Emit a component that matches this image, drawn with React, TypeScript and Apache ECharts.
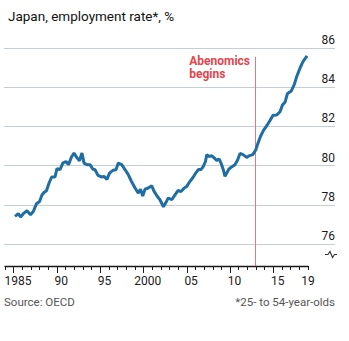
import React, { useEffect, useRef } from "react";
import * as echarts from "echarts";

// Japan employment rate (25-54), % — [year, value]
const years: number[] = [
  1985.16, 1985.54, 1985.79, 1986.19, 1986.54, 1986.95, 1987.27, 1987.64, 1987.99, 1988.27,
  1988.5, 1988.79, 1989.08, 1989.39, 1989.78, 1990.0, 1990.35, 1990.7, 1991.05, 1991.34,
  1991.68, 1991.97, 1992.28, 1992.6, 1992.89, 1993.13, 1993.47, 1993.82, 1994.13, 1994.4,
  1994.74, 1995.15, 1995.44, 1995.78, 1996.07, 1996.47, 1996.82, 1997.09, 1997.48, 1997.86,
  1998.24, 1998.61, 1999.02, 1999.4, 1999.65, 1999.91, 2000.17, 2000.55, 2000.95, 2001.21,
  2001.56, 2001.9, 2002.3, 2002.68, 2002.86, 2003.26, 2003.64, 2003.98, 2004.33, 2004.71,
  2004.99, 2005.37, 2005.75, 2006.03, 2006.33, 2006.64, 2006.91, 2007.16, 2007.3, 2007.56,
  2007.88, 2008.18, 2008.45, 2008.72, 2008.95, 2009.22, 2009.41, 2009.61, 2009.87, 2010.26,
  2010.57, 2010.88, 2011.15, 2011.5, 2011.92, 2012.19, 2012.62, 2012.96, 2013.23, 2013.52,
  2013.86, 2014.26, 2014.61, 2014.96, 2015.39, 2015.77, 2016.06, 2016.34, 2016.63, 2017.04,
  2017.41, 2017.7, 2018.08, 2018.42, 2018.89,
];
const rates: number[] = [
  77.41, 77.55, 77.38, 77.58, 77.7, 77.5, 77.66, 78.06, 78.17, 78.5,
  78.63, 78.72, 79.1, 79.42, 79.42, 79.85, 79.8, 80.14, 80.21, 80.05,
  80.44, 80.64, 80.42, 80.25, 80.64, 80.13, 80.05, 80.05, 79.83, 79.79,
  79.5, 79.42, 79.45, 79.3, 79.62, 79.76, 79.79, 80.13, 80.05, 79.8,
  79.54, 79.19, 78.86, 78.6, 78.8, 78.45, 78.8, 78.86, 78.97, 78.7,
  78.45, 78.26, 77.9, 78.2, 78.35, 78.26, 78.51, 78.73, 78.68, 78.86,
  78.94, 79.2, 79.42, 79.62, 79.8, 79.8, 79.96, 80.21, 80.56, 80.47,
  80.5, 80.39, 80.27, 80.34, 80.13, 79.79, 79.45, 79.62, 79.83, 79.96,
  80.05, 80.3, 80.62, 80.56, 80.42, 80.5, 80.56, 80.8, 81.15, 81.5,
  81.8, 82.05, 82.3, 82.57, 82.58, 82.75, 83.1, 83.23, 83.68, 83.79,
  84.13, 84.55, 84.98, 85.3, 85.6,
];

const yTicks: number[] = [76, 78, 80, 82, 84, 86];
const majorTickYears: number[] = [1985, 1990, 1995, 2000, 2005, 2010, 2015];
const xLabelPositions: number[] = [1985.5, 1990.5, 1995.5, 2000.5, 2005.5, 2010.5, 2015.5, 2019];
const xLabelTexts: string[] = ["1985", "90", "95", "2000", "05", "10", "15", "19"];
const abenomicsYear = 2012.95;
const abenomicsTop = 85.55;

const X_MIN = 1984;
const X_MAX = 2019;
const Y_MIN = 74.88;
const Y_MAX = 86;

const FONT = "Roboto, 'Noto Sans', sans-serif";
const RED = "#e3454c";

export default function App() {
  const ref = useRef<HTMLDivElement>(null);
  useEffect(() => {
    if (!ref.current) return;
    const chart = echarts.init(ref.current, undefined, { renderer: "svg" });
    const labelMap: Record<string, string> = {};
    xLabelPositions.forEach((p, i) => (labelMap[String(p)] = xLabelTexts[i]));
    const option: any = {
      animation: false,
      backgroundColor: "#ffffff",
      textStyle: { fontFamily: FONT },
      title: {
        text: "Japan, employment rate*, %",
        left: 3,
        top: 4,
        textStyle: { fontFamily: FONT, fontSize: 13.5, fontWeight: "normal", color: "#111" },
      },
      grid: [
        { left: 4, right: 14, top: 48, height: 196, containLabel: false },
        { left: 5, width: 303, top: 48, height: 218, containLabel: false },
      ],
      xAxis: [
        { type: "value", gridIndex: 0, min: X_MIN, max: X_MAX, show: false },
        {
          type: "value",
          gridIndex: 1,
          min: X_MIN,
          max: X_MAX,
          interval: 1,
          position: "bottom",
          axisLine: { show: true, lineStyle: { color: "#1a1a1a", width: 1.3 } },
          axisTick: { show: true, length: 4, lineStyle: { color: "#1a1a1a", width: 1 } },
          axisLabel: { show: false },
          splitLine: { show: false },
        },
        {
          type: "value",
          gridIndex: 1,
          min: X_MIN,
          max: X_MAX,
          position: "bottom",
          axisLine: { show: false },
          axisTick: {
            show: true,
            length: 7,
            customValues: majorTickYears,
            lineStyle: { color: "#1a1a1a", width: 1 },
          },
          axisLabel: {
            show: true,
            customValues: xLabelPositions,
            formatter: (v: number) => labelMap[String(v)] ?? "",
            margin: 9,
            fontSize: 12,
            color: "#1a1a1a",
            fontFamily: FONT,
            showMinLabel: true,
            showMaxLabel: true,
            hideOverlap: false,
          },
          splitLine: { show: false },
        },
      ],
      yAxis: [
        {
          type: "value",
          gridIndex: 0,
          min: yTicks[0],
          max: yTicks[yTicks.length - 1],
          interval: 2,
          position: "right",
          axisLine: { show: false },
          axisTick: { show: false },
          axisLabel: {
            show: true,
            inside: true,
            margin: 0,
            align: "right",
            verticalAlign: "bottom",
            padding: [0, 0, 2, 0],
            fontSize: 12,
            color: "#1a1a1a",
            fontFamily: FONT,
          },
          splitLine: { show: true, lineStyle: { color: "#c5ced4", width: 1 } },
        },
        {
          type: "value",
          gridIndex: 1,
          min: Y_MIN,
          max: Y_MAX,
          show: false,
          splitLine: { show: false },
        },
      ],
      series: [
        {
          type: "line",
          xAxisIndex: 1,
          yAxisIndex: 1,
          data: years.map((y, i) => [y, rates[i]]),
          showSymbol: false,
          symbol: "none",
          lineStyle: { color: "#1f6ea3", width: 3 },
          z: 5,
          markLine: {
            silent: true,
            symbol: ["none", "none"],
            label: { show: false },
            lineStyle: { color: "#e8777c", width: 1, type: "solid" },
            data: [
              [
                { coord: [abenomicsYear, Y_MIN] },
                { coord: [abenomicsYear, abenomicsTop] },
              ],
            ],
            z: 3,
          },
        },
      ],
      graphic: [
        {
          type: "text",
          right: 349 - 250,
          top: 54,
          style: {
            text: "Abenomics\nbegins",
            fill: RED,
            font: `bold 12px ${FONT}`,
            align: "right",
            lineHeight: 13,
          },
        },
        {
          type: "polyline",
          shape: {
            points: [
              [325, 254.5],
              [328, 254.5],
              [330, 251.5],
              [332.5, 257.5],
              [334.5, 254.5],
              [337, 254.5],
            ],
          },
          style: { stroke: "#333", lineWidth: 1.1, fill: "none" },
        },
        {
          type: "text",
          x: 4,
          y: 296,
          style: { text: "Source: OECD", fill: "#555", font: `11.5px ${FONT}`, align: "left" },
        },
        {
          type: "text",
          x: 335,
          y: 296,
          style: { text: "*25- to 54-year-olds", fill: "#555", font: `11.5px ${FONT}`, align: "right" },
        },
      ],
    };
    chart.setOption(option);
    return () => chart.dispose();
  }, []);
  return (
    <div
      ref={ref}
      style={{ position: "fixed", left: 0, top: 0, width: 349, height: 341 }}
    />
  );
}
